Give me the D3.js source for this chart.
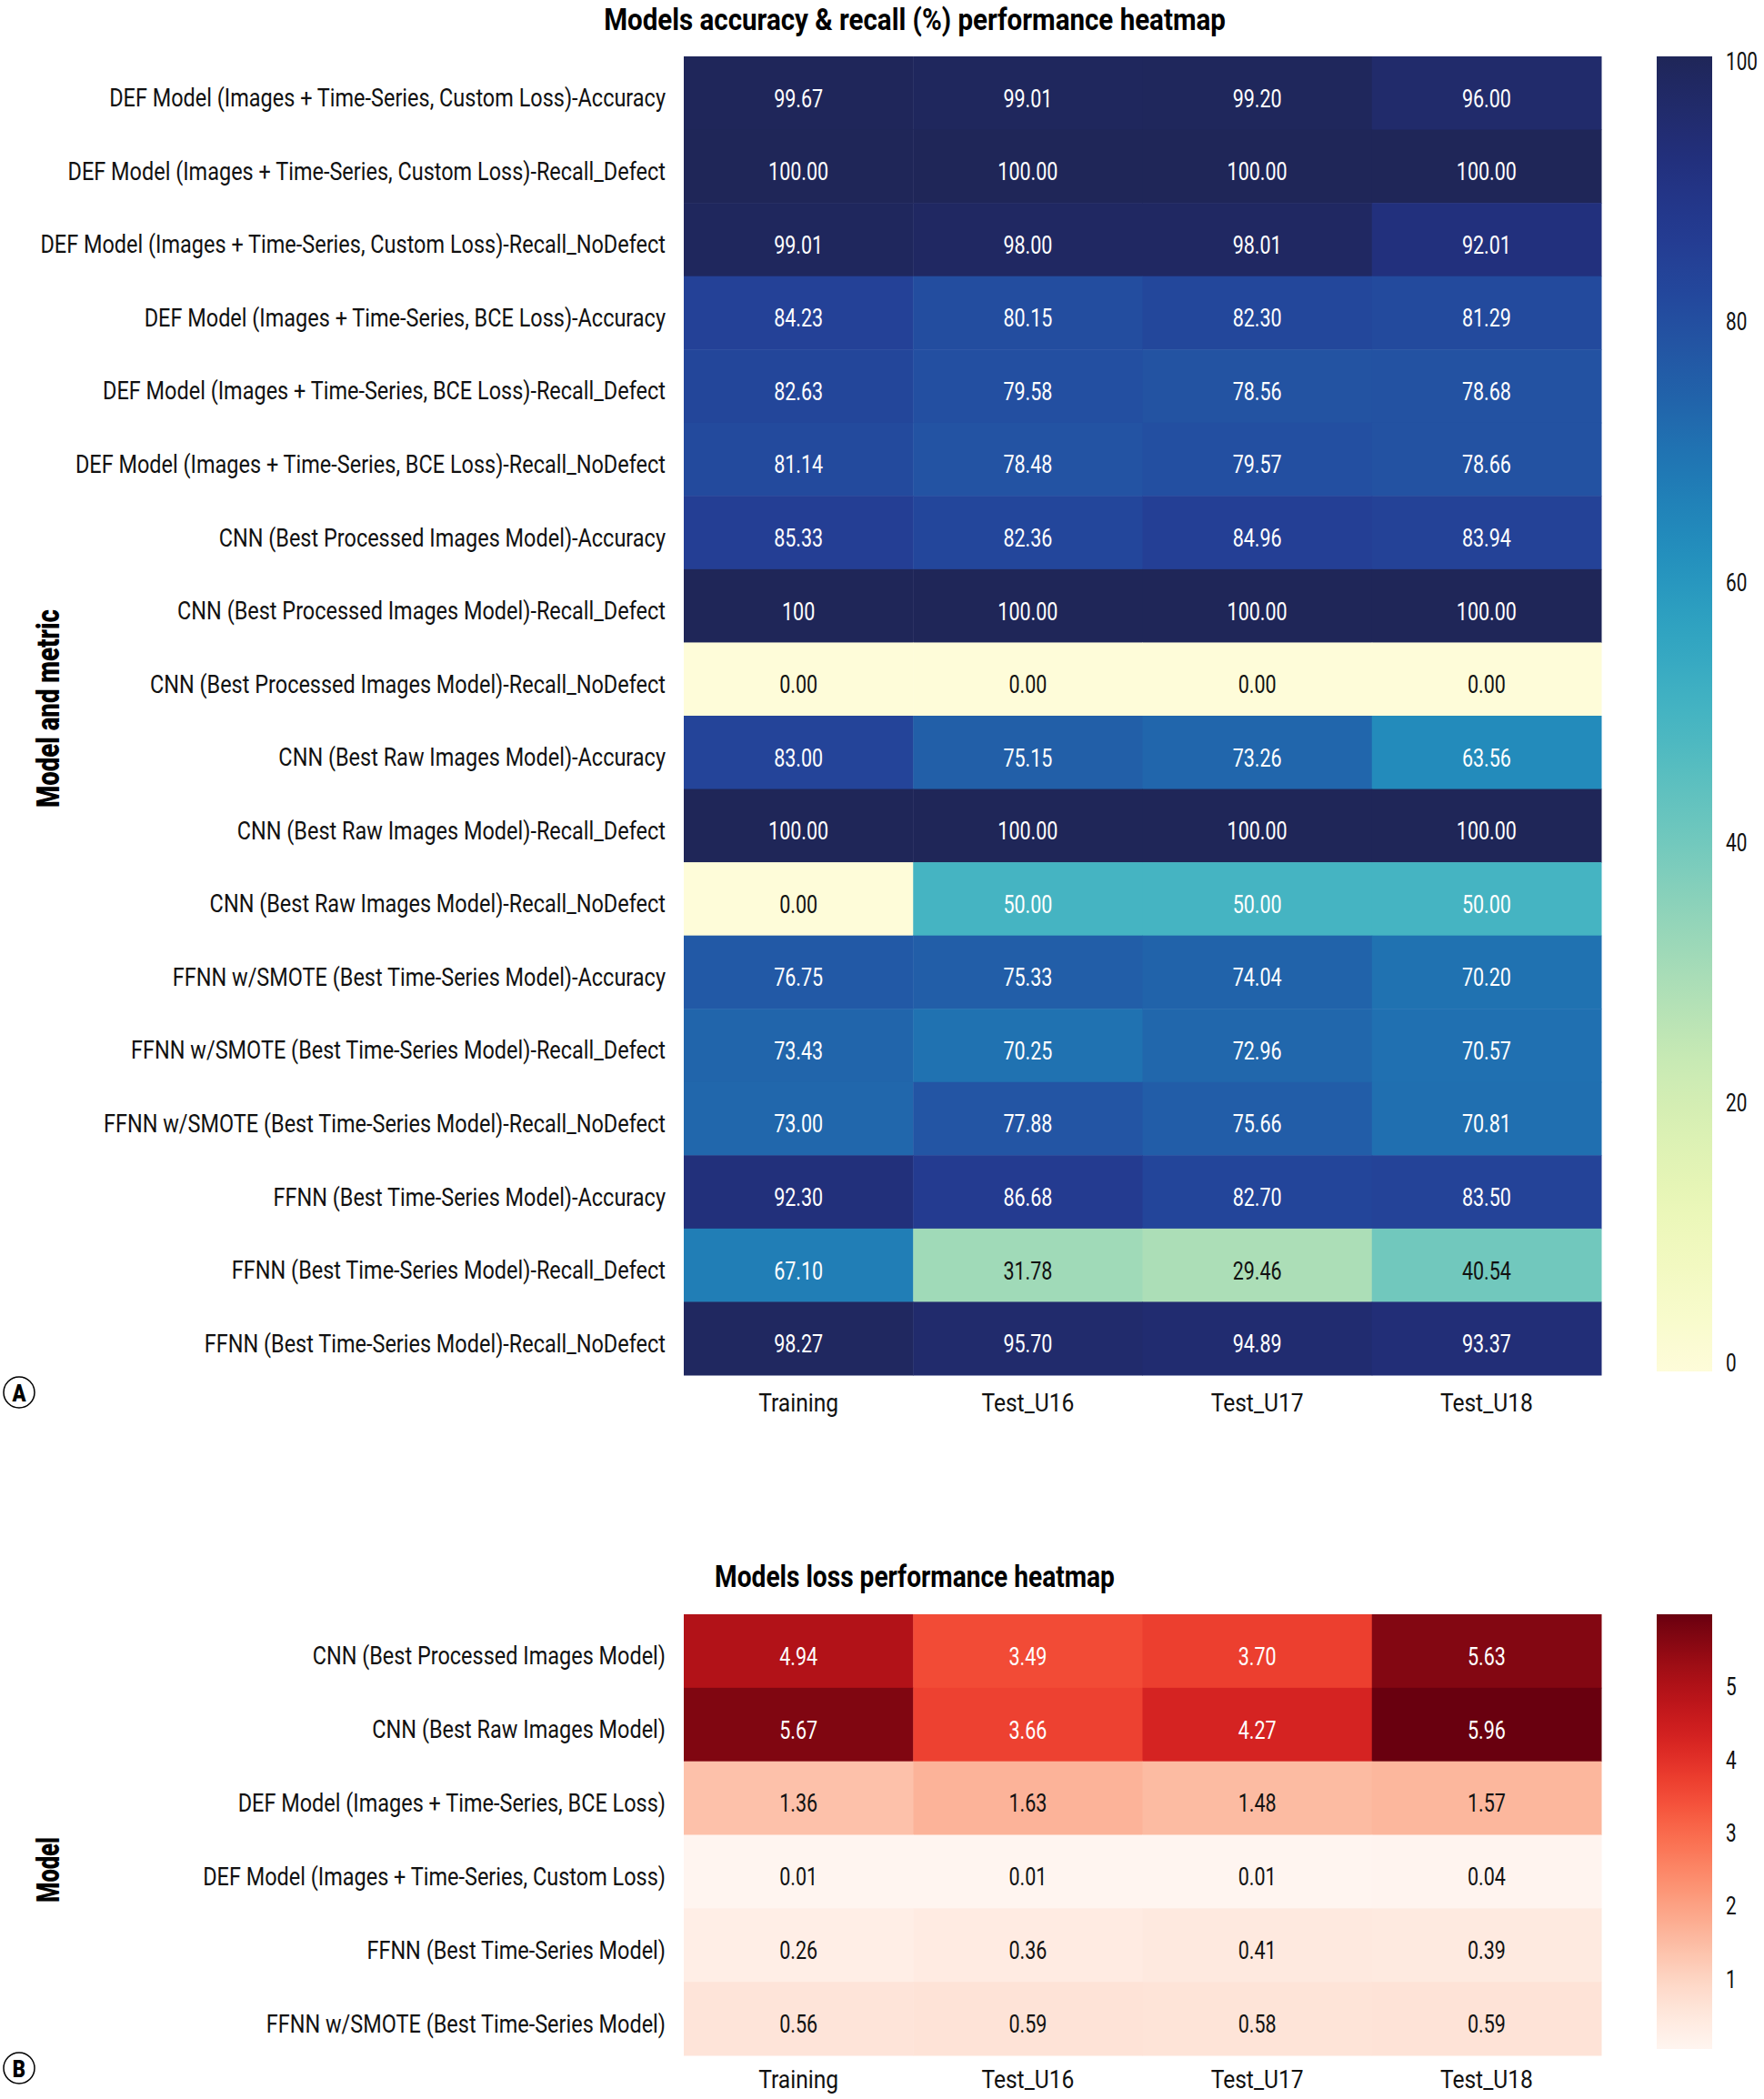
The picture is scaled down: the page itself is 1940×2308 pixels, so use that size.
<!DOCTYPE html>
<html>
<head>
<meta charset="utf-8">
<script src="https://cdn.jsdelivr.net/npm/d3@7"></script>
<style>
  html, body { margin: 0; padding: 0; background: #fff; }
  svg { display: block; }
  text { font-family: Roboto, "Noto Sans", sans-serif; }
</style>
</head>
<body>
<svg id="chart" width="1940" height="2308"></svg>
<script>
// ---------------- DATA ----------------
const columns = ["Training", "Test_U16", "Test_U17", "Test_U18"];

const accRows = [
  "DEF Model (Images + Time-Series, Custom Loss)-Accuracy",
  "DEF Model (Images + Time-Series, Custom Loss)-Recall_Defect",
  "DEF Model (Images + Time-Series, Custom Loss)-Recall_NoDefect",
  "DEF Model (Images + Time-Series, BCE Loss)-Accuracy",
  "DEF Model (Images + Time-Series, BCE Loss)-Recall_Defect",
  "DEF Model (Images + Time-Series, BCE Loss)-Recall_NoDefect",
  "CNN (Best Processed Images Model)-Accuracy",
  "CNN (Best Processed Images Model)-Recall_Defect",
  "CNN (Best Processed Images Model)-Recall_NoDefect",
  "CNN (Best Raw Images Model)-Accuracy",
  "CNN (Best Raw Images Model)-Recall_Defect",
  "CNN (Best Raw Images Model)-Recall_NoDefect",
  "FFNN w/SMOTE (Best Time-Series Model)-Accuracy",
  "FFNN w/SMOTE (Best Time-Series Model)-Recall_Defect",
  "FFNN w/SMOTE (Best Time-Series Model)-Recall_NoDefect",
  "FFNN (Best Time-Series Model)-Accuracy",
  "FFNN (Best Time-Series Model)-Recall_Defect",
  "FFNN (Best Time-Series Model)-Recall_NoDefect"
];
const accTraining = [99.67, 100.00, 99.01, 84.23, 82.63, 81.14, 85.33, 100, 0.00, 83.00, 100.00, 0.00, 76.75, 73.43, 73.00, 92.30, 67.10, 98.27];
const accU16      = [99.01, 100.00, 98.00, 80.15, 79.58, 78.48, 82.36, 100.00, 0.00, 75.15, 100.00, 50.00, 75.33, 70.25, 77.88, 86.68, 31.78, 95.70];
const accU17      = [99.20, 100.00, 98.01, 82.30, 78.56, 79.57, 84.96, 100.00, 0.00, 73.26, 100.00, 50.00, 74.04, 72.96, 75.66, 82.70, 29.46, 94.89];
const accU18      = [96.00, 100.00, 92.01, 81.29, 78.68, 78.66, 83.94, 100.00, 0.00, 63.56, 100.00, 50.00, 70.20, 70.57, 70.81, 83.50, 40.54, 93.37];
// the one cell the original prints without decimals
const accTextOverride = { "7-0": "100" };
const accTicks = [0, 20, 40, 60, 80, 100];

const lossRows = [
  "CNN (Best Processed Images Model)",
  "CNN (Best Raw Images Model)",
  "DEF Model (Images + Time-Series, BCE Loss)",
  "DEF Model (Images + Time-Series, Custom Loss)",
  "FFNN (Best Time-Series Model)",
  "FFNN w/SMOTE (Best Time-Series Model)"
];
const lossTraining = [4.94, 5.67, 1.36, 0.01, 0.26, 0.56];
const lossU16      = [3.49, 3.66, 1.63, 0.01, 0.36, 0.59];
const lossU17      = [3.70, 4.27, 1.48, 0.01, 0.41, 0.58];
const lossU18      = [5.63, 5.96, 1.57, 0.04, 0.39, 0.59];
const lossTicks = [1, 2, 3, 4, 5];

// ---------------- RENDER ----------------
const svg = d3.select("#chart");
const defs = svg.append("defs");

// measure a string to derive a horizontal condensing factor (the original uses a condensed face)
function measure(str, size, weight) {
  const t = svg.append("text").attr("font-size", size).attr("font-weight", weight || "normal")
    .attr("x", -5000).attr("y", -5000).text(str);
  const w = t.node().getComputedTextLength();
  t.remove();
  return w;
}
// horizontal squeeze about the text's own anchor point
function condense(sel, factor) {
  sel.each(function () {
    const el = d3.select(this);
    const x0 = +el.attr("x") || 0;
    const prev = el.attr("transform") || "";
    el.attr("x", 0).attr("transform", `${prev} translate(${x0},0) scale(${factor},1)`);
  });
}

const LABEL_SIZE = 28, VALUE_SIZE = 27, TICK_SIZE = 27;
const labelFactor = 612 / measure("DEF Model (Images + Time-Series, Custom Loss)-Accuracy", LABEL_SIZE);
const valueFactor = 54 / measure("99.67", VALUE_SIZE);
const colFactor = 88 / measure("Training", LABEL_SIZE);
const tickFactor = 35 / measure("100", TICK_SIZE);

const ylgnbu = d3.interpolateRgbBasis(["#fefcd9", "#edf8b1", "#c7e9b4", "#7fcdbb", "#41b6c4", "#1d91c0", "#225ea8", "#253494", "#1f2658"]);
const reds = d3.interpolateRgbBasis(["#fff5f0", "#fee0d2", "#fcbba1", "#fc9272", "#fb6a4a", "#ef3b2c", "#cb181d", "#a50f15", "#69000f"]);

function textColor(c) {
  const rgb = d3.rgb(c);
  const lin = v => { v /= 255; return v <= 0.03928 ? v / 12.92 : Math.pow((v + 0.055) / 1.055, 2.4); };
  const L = 0.2126 * lin(rgb.r) + 0.7152 * lin(rgb.g) + 0.0722 * lin(rgb.b);
  return L > 0.408 ? "#111" : "#fff";
}

function heatmap(opts) {
  const { rows, series, domain, interp, top, bottom, overrides, ticks, tickFmt,
          title, titleY, titleW, yLabel, yLabelW, yLabelY, letter, letterY, colLabelY, gradId,
          cbRange } = opts;
  const left = 752, right = 1761;
  const x = d3.scaleBand().domain(columns).range([left, right]);
  const y = d3.scaleBand().domain(rows).range([top, bottom]);
  const color = d3.scaleSequential(interp).domain(domain);

  const cells = [];
  rows.forEach((r, i) => columns.forEach((c, j) => cells.push({ r, c, i, j, v: series[j][i] })));

  const g = svg.append("g");
  g.selectAll("rect.cell").data(cells).join("rect")
    .attr("class", "cell")
    .attr("x", d => x(d.c)).attr("y", d => y(d.r))
    .attr("width", x.bandwidth() + 0.5).attr("height", y.bandwidth() + 0.5)
    .attr("fill", d => color(d.v));

  g.selectAll("text.val").data(cells).join("text")
    .attr("class", "val")
    .attr("x", d => x(d.c) + x.bandwidth() / 2)
    .attr("y", d => y(d.r) + y.bandwidth() / 2 + 6)
    .attr("text-anchor", "middle")
    .attr("dominant-baseline", "central")
    .attr("font-size", VALUE_SIZE)
    .attr("fill", d => textColor(color(d.v)))
    .text(d => (overrides && overrides[d.i + "-" + d.j]) || d3.format(".2f")(d.v))
    .call(condense, valueFactor);

  // y axis labels
  const yAxis = g.append("g").attr("transform", `translate(${left},6)`)
    .call(d3.axisLeft(y).tickSize(0).tickPadding(20));
  yAxis.select(".domain").remove();
  yAxis.selectAll("text").attr("font-size", LABEL_SIZE).attr("fill", "#111")
    .style("font-family", 'Roboto, "Noto Sans", sans-serif')
    .call(condense, labelFactor);

  // x axis labels
  const xAxis = g.append("g").attr("transform", `translate(0,${bottom})`)
    .call(d3.axisBottom(x).tickSize(0).tickPadding(colLabelY - bottom));
  xAxis.select(".domain").remove();
  xAxis.selectAll("text").attr("font-size", LABEL_SIZE).attr("fill", "#111")
    .style("font-family", 'Roboto, "Noto Sans", sans-serif')
    .call(condense, colFactor);

  // title
  svg.append("text").attr("x", 1006).attr("y", titleY)
    .attr("text-anchor", "middle").attr("font-size", 33).attr("font-weight", "bold")
    .attr("fill", "#000").text(title)
    .call(condense, titleW / measure(title, 33, "bold"));

  // y label
  const yl = svg.append("g").attr("transform", `translate(65,${yLabelY}) rotate(-90)`);
  yl.append("text").attr("x", 0).attr("y", 0)
    .attr("text-anchor", "middle").attr("font-size", 36).attr("font-weight", 900)
    .attr("fill", "#000").text(yLabel)
    .call(condense, yLabelW / measure(yLabel, 36, 900));

  // panel letter
  svg.append("circle").attr("cx", 21).attr("cy", letterY).attr("r", 17)
    .attr("fill", "#fff").attr("stroke", "#000").attr("stroke-width", 1.5);
  svg.append("text").attr("x", 21).attr("y", letterY + 1).attr("text-anchor", "middle")
    .attr("dominant-baseline", "central").attr("font-size", 26).attr("font-weight", 900)
    .text(letter).call(condense, 0.85);

  // colorbar
  const cbX = 1822, cbW = 61;
  const cbBottom = opts.cbBottom;
  const cy = d3.scaleLinear().domain(domain).range(cbRange);
  const grad = defs.append("linearGradient").attr("id", gradId)
    .attr("x1", 0).attr("y1", 1).attr("x2", 0).attr("y2", 0);
  d3.range(0, 1.0001, 0.02).forEach(t => {
    grad.append("stop").attr("offset", t).attr("stop-color", interp(t));
  });
  svg.append("rect").attr("x", cbX).attr("y", top).attr("width", cbW)
    .attr("height", cbBottom - top).attr("fill", `url(#${gradId})`);
  const cbAxis = svg.append("g").attr("transform", `translate(${cbX + cbW},0)`)
    .call(d3.axisRight(cy).tickValues(ticks).tickFormat(tickFmt).tickSize(0).tickPadding(15));
  cbAxis.select(".domain").remove();
  cbAxis.selectAll("text").attr("font-size", TICK_SIZE).attr("fill", "#111")
    .style("font-family", 'Roboto, "Noto Sans", sans-serif')
    .call(condense, tickFactor);
}

heatmap({
  rows: accRows,
  series: [accTraining, accU16, accU17, accU18],
  domain: [0, 100], interp: ylgnbu,
  top: 62, bottom: 1512, cbBottom: 1508, cbRange: [1499, 68],
  overrides: accTextOverride,
  ticks: accTicks, tickFmt: d3.format("d"),
  title: "Models accuracy & recall (%) performance heatmap", titleY: 33, titleW: 684,
  yLabel: "Model and metric", yLabelW: 218, yLabelY: 779, letter: "A", letterY: 1531, colLabelY: 1532,
  gradId: "gradA"
});

const allLoss = [].concat(lossTraining, lossU16, lossU17, lossU18);
heatmap({
  rows: lossRows,
  series: [lossTraining, lossU16, lossU17, lossU18],
  domain: [d3.min(allLoss), d3.max(allLoss)], interp: reds,
  top: 1775, bottom: 2260, cbBottom: 2253, cbRange: [2256, 1778],
  overrides: null,
  ticks: lossTicks, tickFmt: d3.format("d"),
  title: "Models loss performance heatmap", titleY: 1745, titleW: 440,
  yLabel: "Model", yLabelW: 72, yLabelY: 2056, letter: "B", letterY: 2274, colLabelY: 2276,
  gradId: "gradB"
});
</script>
</body>
</html>
